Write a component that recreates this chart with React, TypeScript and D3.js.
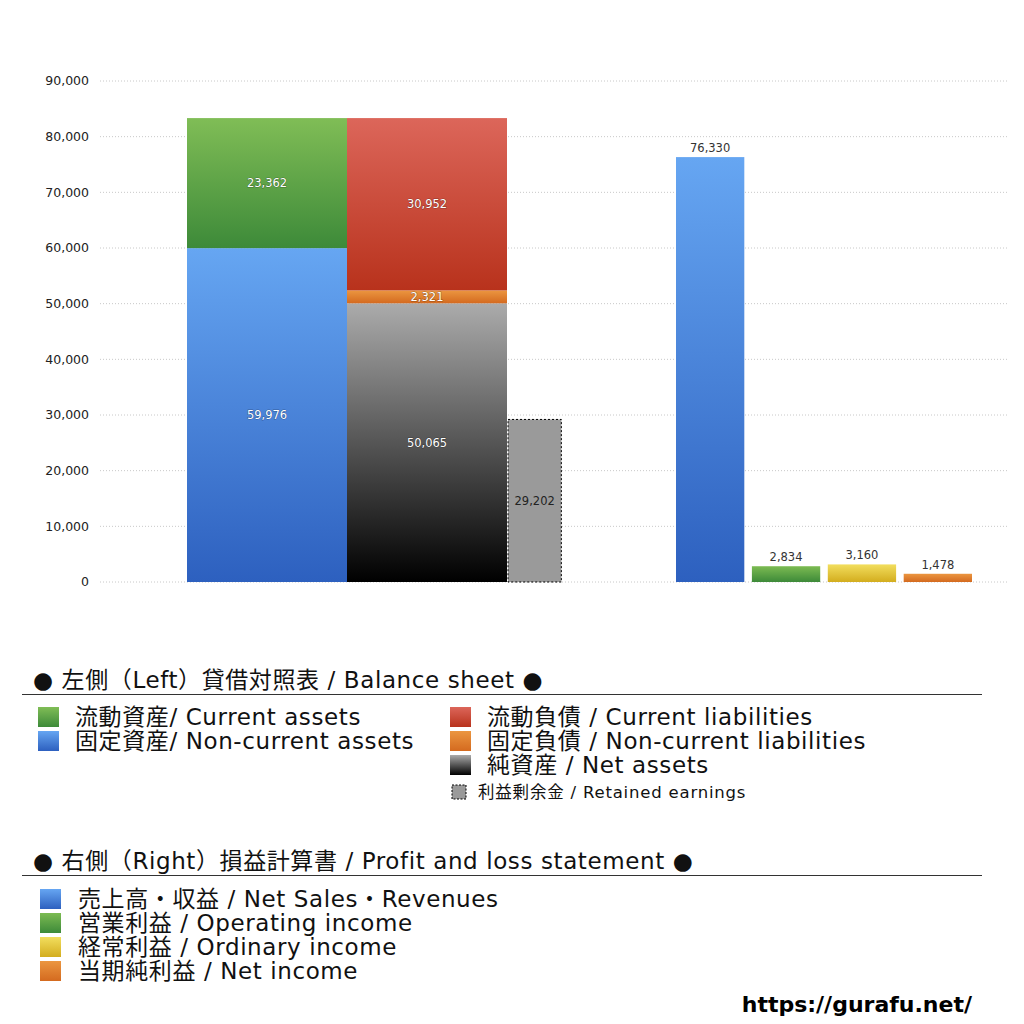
import * as d3 from "d3";

// balance sheet (left) values
const assetKeys = ["nonCurrentAssets", "currentAssets"];
const assetValues = [59976, 23362];
const liabilityKeys = ["netAssets", "nonCurrentLiabilities", "currentLiabilities"];
const liabilityValues = [50065, 2321, 30952];
const retainedEarnings = 29202;

// profit and loss (right) values
const plKeys = ["sales", "operating", "ordinary", "net"];
const plValues = [76330, 2834, 3160, 1478];

const yTicks = [0, 10000, 20000, 30000, 40000, 50000, 60000, 70000, 80000, 90000];

const bsLegendLeft = ["流動資産/ Current assets", "固定資産/ Non-current assets"];
const bsLegendRight = ["流動負債 /  Current liabilities", "固定負債 / Non-current liabilities", "純資産 / Net assets"];
const plLegend = ["売上高・収益 / Net Sales・Revenues", "営業利益 / Operating income", "経常利益 / Ordinary income", "当期純利益 / Net income"];

const GRADS: Record<string, [string, string]> = {
  currentAssets: ["#80bd56", "#3d8a39"],
  nonCurrentAssets: ["#66a6f2", "#2d60bf"],
  currentLiabilities: ["#dc665a", "#b8321c"],
  nonCurrentLiabilities: ["#eb9640", "#d46a1f"],
  netAssets: ["#ababab", "#000000"],
  sales: ["#66a6f2", "#2d60bf"],
  operating: ["#7cbb52", "#3d8a39"],
  ordinary: ["#f2de5e", "#d3ad1e"],
  net: ["#eb9640", "#d46a1f"],
};

const FONT = "'DejaVu Sans', 'Noto Sans CJK JP', sans-serif";
const fmt = d3.format(",");

export default function App() {
  const width = 1024;
  const height = 1024;
  const plot = { left: 100, right: 1008, top: 81, bottom: 582 };

  const y = d3.scaleLinear().domain([0, 90000]).range([plot.bottom, plot.top]);

  const bsX = d3.scaleBand<string>().domain(["assets", "liabilities"]).range([187, 507]).padding(0);
  const bw = bsX.bandwidth();
  const retainedX = (bsX("liabilities") as number) + bw + 1;
  const retainedW = bw / 3;

  const plX = d3.scaleBand<string>().domain(plKeys).range([676, 972]).paddingInner(0.1);

  const stack = (keys: string[], values: number[]) => {
    let acc = 0;
    return keys.map((k, i) => {
      const s = { key: k, v0: acc, v1: acc + values[i], value: values[i] };
      acc += values[i];
      return s;
    });
  };
  const assets = stack(assetKeys, assetValues);
  const liabilities = stack(liabilityKeys, liabilityValues);

  const segment = (s: { key: string; v0: number; v1: number; value: number }, x: number) => (
    <g key={s.key}>
      <rect x={x} y={y(s.v1)} width={bw} height={y(s.v0) - y(s.v1)} fill={`url(#g-${s.key})`} />
      <text
        x={x + bw / 2}
        y={(y(s.v0) + y(s.v1)) / 2}
        dy="0.35em"
        textAnchor="middle"
        fontSize={11.5}
        fill="#fff"
        stroke="rgba(0,0,0,0.35)"
        strokeWidth={1}
        style={{ paintOrder: "stroke" }}
      >
        {fmt(s.value)}
      </text>
    </g>
  );

  const legendSquare = (x: number, cy: number, key: string) => (
    <rect x={x} y={cy - 10} width={21} height={20} fill={`url(#g-${key})`} />
  );

  const LS = 0.6; // letter spacing of legend text

  return (
    <svg
      width={width}
      height={height}
      style={{ position: "absolute", left: 0, top: 0, background: "#fff" }}
      fontFamily={FONT}
    >
      <defs>
        {Object.entries(GRADS).map(([k, [c0, c1]]) => (
          <linearGradient key={k} id={`g-${k}`} x1="0" y1="0" x2="0" y2="1">
            <stop offset="0%" stopColor={c0} />
            <stop offset="100%" stopColor={c1} />
          </linearGradient>
        ))}
      </defs>

      {/* grid + y axis */}
      {yTicks.map((t) => (
        <g key={t}>
          <line
            x1={plot.left}
            x2={plot.right}
            y1={y(t)}
            y2={y(t)}
            stroke="#c8c8c8"
            strokeDasharray="1,2"
          />
          <text x={89} y={y(t)} dy="0.35em" textAnchor="end" fontSize={12.5} fill="#222">
            {fmt(t)}
          </text>
        </g>
      ))}

      {/* balance sheet */}
      {assets.map((s) => segment(s, bsX("assets") as number))}
      {liabilities.map((s) => segment(s, bsX("liabilities") as number))}
      <rect
        x={retainedX}
        y={y(retainedEarnings)}
        width={retainedW}
        height={y(0) - y(retainedEarnings)}
        fill="#9a9a9a"
        stroke="#000"
        strokeDasharray="2,2"
      />
      <text
        x={retainedX + retainedW / 2}
        y={(y(0) + y(retainedEarnings)) / 2}
        dy="0.35em"
        textAnchor="middle"
        fontSize={11.5}
        fill="#222"
      >
        {fmt(retainedEarnings)}
      </text>

      {/* profit and loss */}
      {plKeys.map((k, i) => (
        <g key={k}>
          <rect
            x={plX(k)}
            y={y(plValues[i])}
            width={plX.bandwidth()}
            height={y(0) - y(plValues[i])}
            fill={`url(#g-${k})`}
          />
          <text
            x={(plX(k) as number) + plX.bandwidth() / 2}
            y={y(plValues[i]) - 5}
            textAnchor="middle"
            fontSize={11.5}
            fill="#333"
          >
            {fmt(plValues[i])}
          </text>
        </g>
      ))}

      {/* legend: balance sheet */}
      <g letterSpacing={LS}>
        <text x={33} y={688} fontSize={23} fill="#111">
          ● 左側（Left）貸借対照表 / Balance sheet ●
        </text>
        <line x1={22} x2={982} y1={694.5} y2={694.5} stroke="#333" />
        {bsLegendLeft.map((label, i) => (
          <g key={label}>
            {legendSquare(38, 717 + i * 24, assetKeys[1 - i])}
            <text x={75} y={717 + i * 24} dy="0.36em" fontSize={23} fill="#111">
              {label}
            </text>
          </g>
        ))}
        {bsLegendRight.map((label, i) => (
          <g key={label}>
            {legendSquare(450, 717 + i * 24, liabilityKeys[2 - i])}
            <text x={487} y={717 + i * 24} dy="0.36em" fontSize={23} fill="#111">
              {label}
            </text>
          </g>
        ))}
        <rect x={452} y={785} width={14} height={14} fill="#9a9a9a" stroke="#000" strokeDasharray="2,1.5" />
        <text x={478} y={792} dy="0.36em" fontSize={16.5} fill="#111" letterSpacing={0.8}>
          利益剰余金 / Retained earnings
        </text>

        {/* legend: profit and loss */}
        <text x={33} y={869} fontSize={23} fill="#111">
          ● 右側（Right）損益計算書 / Profit and loss statement ●
        </text>
        <line x1={22} x2={982} y1={875.5} y2={875.5} stroke="#333" />
        {plLegend.map((label, i) => (
          <g key={label}>
            {legendSquare(40, 899 + i * 24, plKeys[i])}
            <text x={78} y={899 + i * 24} dy="0.36em" fontSize={23} fill="#111">
              {label}
            </text>
          </g>
        ))}
      </g>

      <text x={972} y={1012} textAnchor="end" fontSize={22} fontWeight="bold" fill="#000">
        https://gurafu.net/
      </text>
    </svg>
  );
}
